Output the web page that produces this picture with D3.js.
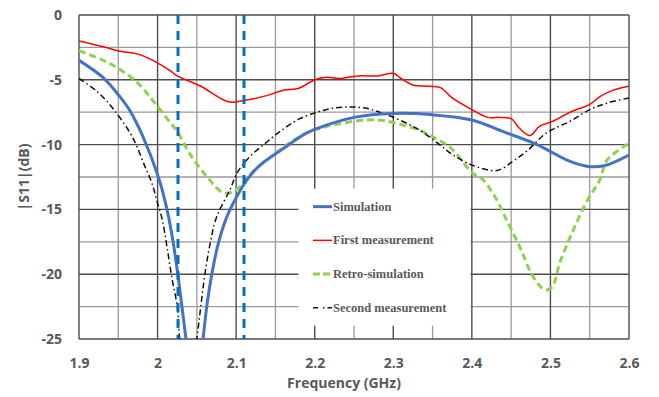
<!DOCTYPE html>
<meta charset="utf-8">
<style>
    body { margin: 0; background: #fff; }
    .tick text { font-family: "Open Sans", sans-serif; font-weight: bold; fill: #595959; }
    .legend text { font-family: "Liberation Serif", serif; font-weight: bold; fill: #595959; font-size: 12.5px; }
</style>
<body>
<div id="chart"></div>
<script src="https://d3js.org/d3.v7.min.js"></script>
<script>
    // data: [frequency GHz, |S11| dB]
    var simulation = [[1.9,-3.5],[1.93,-4.8],[1.952,-6.3],[1.965,-7.4],[1.98,-9.2],[2.001,-12.5],[2.012,-15.0],[2.02,-17.6],
        [2.026,-20.1],[2.031,-22.5],[2.036,-24.9],[2.047,-30],[2.058,-24.9],[2.063,-22.3],[2.069,-20.0],[2.077,-17.7],
        [2.088,-15.6],[2.1,-14.1],[2.114,-12.7],[2.13,-11.6],[2.16,-10.3],[2.19,-9.1],[2.21,-8.6],[2.25,-7.9],[2.3,-7.6],
        [2.35,-7.7],[2.4,-8.1],[2.44,-9.0],[2.483,-10.0],[2.525,-11.3],[2.55,-11.7],[2.57,-11.6],[2.6,-10.8]];
    var firstMeas = [[1.9,-2.0],[1.931,-2.45],[1.952,-2.8],[1.974,-3.0],[1.994,-3.5],[2.016,-4.3],[2.025,-4.7],[2.055,-5.5],
        [2.09,-6.7],[2.11,-6.6],[2.14,-6.2],[2.16,-5.8],[2.18,-5.65],[2.2,-5.0],[2.215,-4.8],[2.23,-4.9],[2.255,-4.7],
        [2.28,-4.7],[2.3,-4.5],[2.31,-4.9],[2.325,-5.4],[2.345,-5.5],[2.36,-5.6],[2.375,-6.4],[2.4,-7.3],[2.42,-7.9],
        [2.435,-7.9],[2.45,-8.0],[2.46,-8.7],[2.474,-9.3],[2.486,-8.6],[2.503,-8.2],[2.525,-7.5],[2.55,-6.9],[2.563,-6.3],
        [2.58,-5.8],[2.6,-5.5]];
    var retroSim = [[1.9,-2.75],[1.931,-3.5],[1.952,-4.2],[1.974,-5.2],[1.994,-6.6],[2.016,-8.3],[2.025,-9.0],[2.041,-10.7],
        [2.063,-12.5],[2.083,-13.7],[2.093,-13.7],[2.104,-13.3],[2.118,-12.3],[2.139,-11.2],[2.19,-9.1],[2.25,-8.2],
        [2.28,-8.1],[2.3,-8.3],[2.334,-8.9],[2.35,-9.4],[2.372,-10.2],[2.401,-12.2],[2.414,-12.7],[2.432,-14.3],[2.44,-15.3],
        [2.461,-17.9],[2.478,-20.2],[2.493,-21.2],[2.502,-21.0],[2.512,-19.1],[2.529,-16.6],[2.547,-14.3],[2.563,-12.7],
        [2.572,-11.2],[2.6,-9.9]];
    var secondMeas = [[1.9,-4.9],[1.923,-5.9],[1.943,-7.2],[1.965,-9.1],[1.974,-10.2],[1.984,-11.7],[1.993,-13.0],[1.999,-14.3],
        [2.006,-15.8],[2.012,-17.9],[2.018,-20.2],[2.025,-22.5],[2.028,-24.9],[2.039,-29],[2.05,-24.9],[2.055,-22.5],
        [2.06,-20.1],[2.067,-17.6],[2.075,-15.6],[2.092,-13.5],[2.102,-12.1],[2.118,-10.9],[2.139,-9.8],[2.16,-8.8],
        [2.181,-8.0],[2.203,-7.5],[2.223,-7.2],[2.245,-7.1],[2.266,-7.2],[2.287,-7.6],[2.308,-8.1],[2.334,-8.9],[2.359,-10.0],
        [2.376,-10.8],[2.401,-11.6],[2.432,-12.0],[2.452,-11.3],[2.47,-10.5],[2.495,-9.1],[2.525,-8.2],[2.55,-7.3],
        [2.572,-6.8],[2.6,-6.4]];
    var markers = [2.026, 2.11];
    var xTicks = [1.9, 2, 2.1, 2.2, 2.3, 2.4, 2.5, 2.6];
    var yTicks = [0, -5, -10, -15, -20, -25];
    var legendNames = ["Simulation", "First measurement", "Retro-simulation", "Second measurement"];

    var margin = { top: 15, right: 30, bottom: 58, left: 79 },
        width = 659 - margin.left - margin.right,
        height = 397 - margin.top - margin.bottom;

    var x = d3.scaleLinear().domain([1.9, 2.6]).range([0, width]);
    var y = d3.scaleLinear().domain([-25, 0]).range([height, 0]);

    var svg = d3.select("#chart").append("svg")
        .attr("width", 659).attr("height", 397)
        .append("g")
        .attr("transform", "translate(" + margin.left + "," + margin.top + ")");

    svg.append("clipPath").attr("id", "clip")
        .append("rect").attr("width", width).attr("height", height);

    // grid, minor first then major
    var grid = svg.append("g");
    d3.range(1.95, 2.6, 0.1).forEach(function (f) {
        grid.append("line").attr("x1", x(f)).attr("x2", x(f)).attr("y1", 0).attr("y2", height)
            .attr("stroke", "#9a9a9a").attr("stroke-width", 1.3);
    });
    d3.range(-2.5, -25, -5).forEach(function (v) {
        grid.append("line").attr("x1", 0).attr("x2", width).attr("y1", y(v)).attr("y2", y(v))
            .attr("stroke", "#9a9a9a").attr("stroke-width", 1.3);
    });
    xTicks.forEach(function (f) {
        grid.append("line").attr("x1", x(f)).attr("x2", x(f)).attr("y1", 0).attr("y2", height)
            .attr("stroke", "#4d4d4d").attr("stroke-width", 1.4);
    });
    yTicks.forEach(function (v) {
        grid.append("line").attr("x1", 0).attr("x2", width).attr("y1", y(v)).attr("y2", y(v))
            .attr("stroke", "#4d4d4d").attr("stroke-width", 1.4);
    });

    // axes (labels only)
    var xAxis = svg.append("g").attr("transform", "translate(0," + height + ")")
        .call(d3.axisBottom(x).tickValues(xTicks).tickSize(0).tickPadding(19).tickFormat(d3.format("")));
    xAxis.select(".domain").remove();
    xAxis.selectAll("text").style("font-size", "14px");

    var yAxis = svg.append("g")
        .call(d3.axisLeft(y).tickValues(yTicks).tickSize(0).tickPadding(17).tickFormat(d3.format("")));
    yAxis.select(".domain").remove();
    yAxis.selectAll("text").style("font-size", "14px").text(function (d) { return d === 0 ? "0" : "-" + Math.abs(d); });

    svg.append("text").attr("x", x(2.25) - 10).attr("y", height + 49)
        .attr("text-anchor", "middle").attr("font-family", "Open Sans, sans-serif").attr("font-weight", "bold")
        .attr("font-size", "14px").attr("fill", "#595959").text("Frequency (GHz)");
    svg.append("text").attr("transform", "translate(" + (-50) + "," + (height / 2) + ") rotate(-90)")
        .attr("text-anchor", "middle").attr("font-family", "Open Sans, sans-serif").attr("font-weight", "bold")
        .attr("font-size", "14px").attr("fill", "#595959").text("|S11|(dB)");

    var line = d3.line()
        .x(function (d) { return x(d[0]); })
        .y(function (d) { return y(d[1]); })
        .curve(d3.curveCatmullRom.alpha(0.5));

    var plot = svg.append("g").attr("clip-path", "url(#clip)");

    plot.append("path").datum(retroSim).attr("d", line).attr("fill", "none")
        .attr("stroke", "#92D050").attr("stroke-width", 3).attr("stroke-dasharray", "7,4");
    plot.append("path").datum(secondMeas).attr("d", line).attr("fill", "none")
        .attr("stroke", "#111").attr("stroke-width", 1.5).attr("stroke-dasharray", "6,3,1.5,3");
    plot.append("path").datum(simulation).attr("d", line).attr("fill", "none")
        .attr("stroke", "#4472C4").attr("stroke-width", 3);
    plot.append("path").datum(firstMeas).attr("d", line).attr("fill", "none")
        .attr("stroke", "#FF0000").attr("stroke-width", 1.5);

    markers.forEach(function (f) {
        plot.append("line").attr("x1", x(f)).attr("x2", x(f)).attr("y1", 0).attr("y2", height)
            .attr("stroke", "#0070C0").attr("stroke-width", 3).attr("stroke-dasharray", "9,7");
    });

    // legend box covering the grid
    var legend = svg.append("g").attr("class", "legend")
        .attr("transform", "translate(" + x(2.18) + "," + y(-13.4) + ")");
    legend.append("rect").attr("x", -0.5).attr("y", 0).attr("width", 172).attr("height", 137).attr("fill", "#fff");
    var styles = [
        { c: "#4472C4", w: 3, d: null },
        { c: "#FF0000", w: 1.5, d: null },
        { c: "#92D050", w: 3, d: "7,3" },
        { c: "#111", w: 1.5, d: "5,5,1.5,3" }
    ];
    legendNames.forEach(function (name, i) {
        var yy = 18 + i * 33.7;
        legend.append("line").attr("x1", 14).attr("x2", 33).attr("y1", yy).attr("y2", yy)
            .attr("stroke", styles[i].c).attr("stroke-width", styles[i].w)
            .attr("stroke-dasharray", styles[i].d);
        legend.append("text").attr("x", 34).attr("y", yy + 4).text(name);
    });
</script>
</body>
